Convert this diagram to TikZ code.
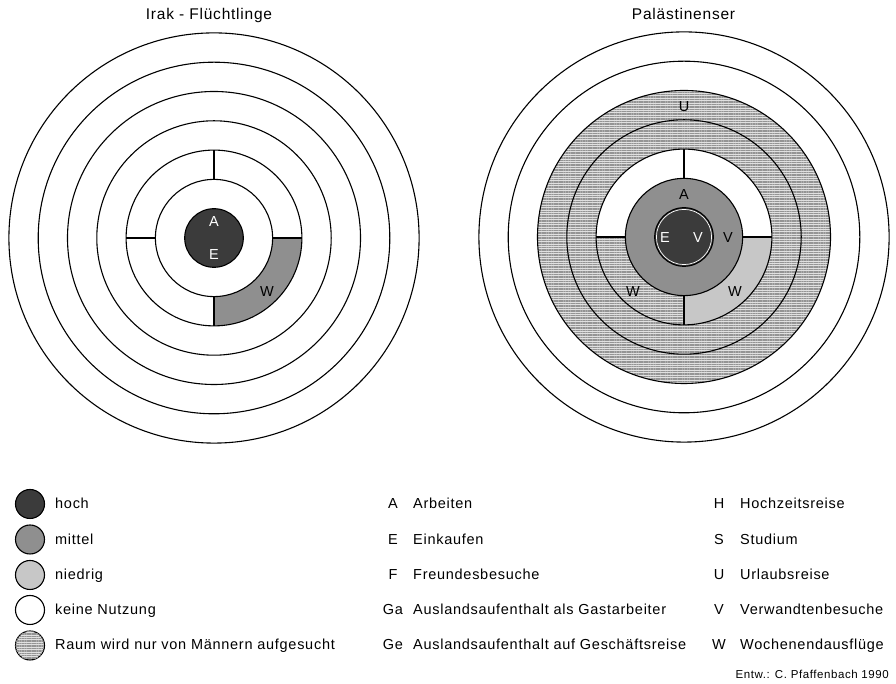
\documentclass[tikz,border=0pt]{standalone}
\usepackage{fontspec}
\setmainfont{Liberation Sans}[LetterSpace=5]
\usetikzlibrary{calc,patterns.meta}
\definecolor{hochgray}{gray}{0.23}
\definecolor{mittelgray}{gray}{0.56}
\definecolor{niedriggray}{gray}{0.78}
\definecolor{maennergray}{gray}{0.88}
\definecolor{maennerline}{gray}{0.58}
% ring radii
\def\Ra{29.3pt}
\def\Rb{58.6pt}
\def\Rc{87.9pt}
\def\Rd{117.2pt}
\def\Re{146.5pt}
\def\Rf{175.8pt}
\def\Rg{205.1pt}
\begin{document}
\begin{tikzpicture}[x=1pt,y=1pt,
  ringline/.style={line width=1.1pt},
  fhoch/.style={fill=hochgray},
  fmittel/.style={fill=mittelgray},
  fniedrig/.style={fill=niedriggray},
  fmaenner/.style={fill=maennergray,
    postaction={pattern={Lines[angle=0,distance=1.7pt,line width=0.55pt]},pattern color=maennerline}},
  title/.style={font=\fontsize{15.5}{15.5}\selectfont,inner sep=0pt,anchor=base},
  ringlabel/.style={font=\fontsize{14.5}{14.5}\selectfont,inner sep=0pt},
  inlabel/.style={ringlabel,text=white},
  keycircle/.style={circle,draw,line width=1.1pt,minimum size=29pt,inner sep=0pt},
  keytext/.style={font=\fontsize{14.5}{14.5}\selectfont,inner sep=0pt,anchor=base west},
  abbr/.style={font=\fontsize{14.5}{14.5}\selectfont,inner sep=0pt,anchor=base},
  credit/.style={font=\fontsize{11.5}{11.5}\selectfont,inner sep=0pt,anchor=base east}
]
\useasboundingbox (0,0) rectangle (896,684);
\fill[white] (0,0) rectangle (896,684);

\coordinate (cL) at (214,446);
\coordinate (cR) at (684,447);

% ---------- Irak-Fluechtlinge ----------
\path[fmittel] ($(cL)+(0:\Rc)$) arc[start angle=0,end angle=-90,radius=\Rc]
  -- ($(cL)+(-90:\Rb)$) arc[start angle=-90,end angle=0,radius=\Rb] -- cycle;
\path[fhoch] (cL) circle (\Ra);
\foreach \r in {\Ra,\Rb,\Rc,\Rd,\Re,\Rf,\Rg}
  \draw[ringline] (cL) circle (\r);
\foreach \a in {0,90,180,270}
  \draw[ringline] ($(cL)+(\a:\Rb)$) -- ($(cL)+(\a:\Rc)$);

\node[title] (tIrak) at (209,664) {Irak - Flüchtlinge};
\node[inlabel] (lA) at ($(cL)+(0,16)$) {A};
\node[inlabel] (lE) at ($(cL)+(0,-17)$) {E};
\node[ringlabel] (lW) at ($(cL)+(53,-54)$) {W};

% ---------- Palaestinenser ----------
\path[fmaenner,even odd rule] (cR) circle (\Re) (cR) circle (\Rc);
\path[fmaenner] ($(cR)+(180:\Rc)$) arc[start angle=180,end angle=270,radius=\Rc]
  -- ($(cR)+(270:\Rb)$) arc[start angle=270,end angle=180,radius=\Rb] -- cycle;
\path[fniedrig] ($(cR)+(0:\Rc)$) arc[start angle=0,end angle=-90,radius=\Rc]
  -- ($(cR)+(-90:\Rb)$) arc[start angle=-90,end angle=0,radius=\Rb] -- cycle;
\path[fmittel] (cR) circle (\Rb);
\path[fhoch] (cR) circle (\Ra);
\foreach \r in {\Ra,\Rb,\Rc,\Rd,\Re,\Rf,\Rg}
  \draw[ringline] (cR) circle (\r);
\draw[white,line width=0.7pt] (cR) circle (27.6pt);
\foreach \a in {0,90,180,270}
  \draw[ringline] ($(cR)+(\a:\Rb)$) -- ($(cR)+(\a:\Rc)$);

\node[title] (tPal) at (683.5,664) {Palästinenser};
\node[ringlabel] (rU) at ($(cR)+(0,130)$) {U};
\node[ringlabel] (rA) at ($(cR)+(0,42)$) {A};
\node[inlabel] (rE) at ($(cR)+(-19,-1)$) {E};
\node[inlabel] (rV) at ($(cR)+(14,-1)$) {V};
\node[ringlabel] (rVm) at ($(cR)+(44,-1)$) {V};
\node[ringlabel] (rWl) at ($(cR)+(-51,-55)$) {W};
\node[ringlabel] (rWr) at ($(cR)+(51,-55)$) {W};

% ---------- key: intensity ----------
\node[keycircle,fill=hochgray]    (k1) at (30,180) {};
\node[keycircle,fill=mittelgray]  (k2) at (30,144.5) {};
\node[keycircle,fill=niedriggray] (k3) at (30,109) {};
\node[keycircle,fill=white]       (k4) at (30,74) {};
\node[keycircle,fmaenner]         (k5) at (30,38.5) {};
\node[keytext] (t1) at (55,175)   {hoch};
\node[keytext] (t2) at (55,139.7) {mittel};
\node[keytext] (t3) at (55,104.4) {niedrig};
\node[keytext] (t4) at (55,69.1)  {keine Nutzung};
\node[keytext] (t5) at (55,34.5)  {Raum wird nur von Männern aufgesucht};

% ---------- key: activities ----------
\node[abbr] (aA)  at (393,175)   {A};
\node[abbr] (aE)  at (393,139.7) {E};
\node[abbr] (aF)  at (393,104.4) {F};
\node[abbr] (aGa) at (393,69.1)  {Ga};
\node[abbr] (aGe) at (393,34.5)  {Ge};
\node[keytext] (xA)  at (413,175)   {Arbeiten};
\node[keytext] (xE)  at (413,139.7) {Einkaufen};
\node[keytext] (xF)  at (413,104.4) {Freundesbesuche};
\node[keytext] (xGa) at (413,69.1)  {Auslandsaufenthalt als Gastarbeiter};
\node[keytext] (xGe) at (413,34.5)  {Auslandsaufenthalt auf Geschäftsreise};

\node[abbr] (aH) at (719,175)   {H};
\node[abbr] (aS) at (719,139.7) {S};
\node[abbr] (aU) at (719,104.4) {U};
\node[abbr] (aV) at (719,69.1)  {V};
\node[abbr] (aW) at (719,34.5)  {W};
\node[keytext] (xH) at (740,175)   {Hochzeitsreise};
\node[keytext] (xS) at (740,139.7) {Studium};
\node[keytext] (xU) at (740,104.4) {Urlaubsreise};
\node[keytext] (xV) at (740,69.1)  {Verwandtenbesuche};
\node[keytext] (xW) at (740,34.5)  {Wochenendausflüge};

\node[credit] (cr) at (889,5) {Entw.: C. Pfaffenbach 1990};
\end{tikzpicture}
\end{document}
